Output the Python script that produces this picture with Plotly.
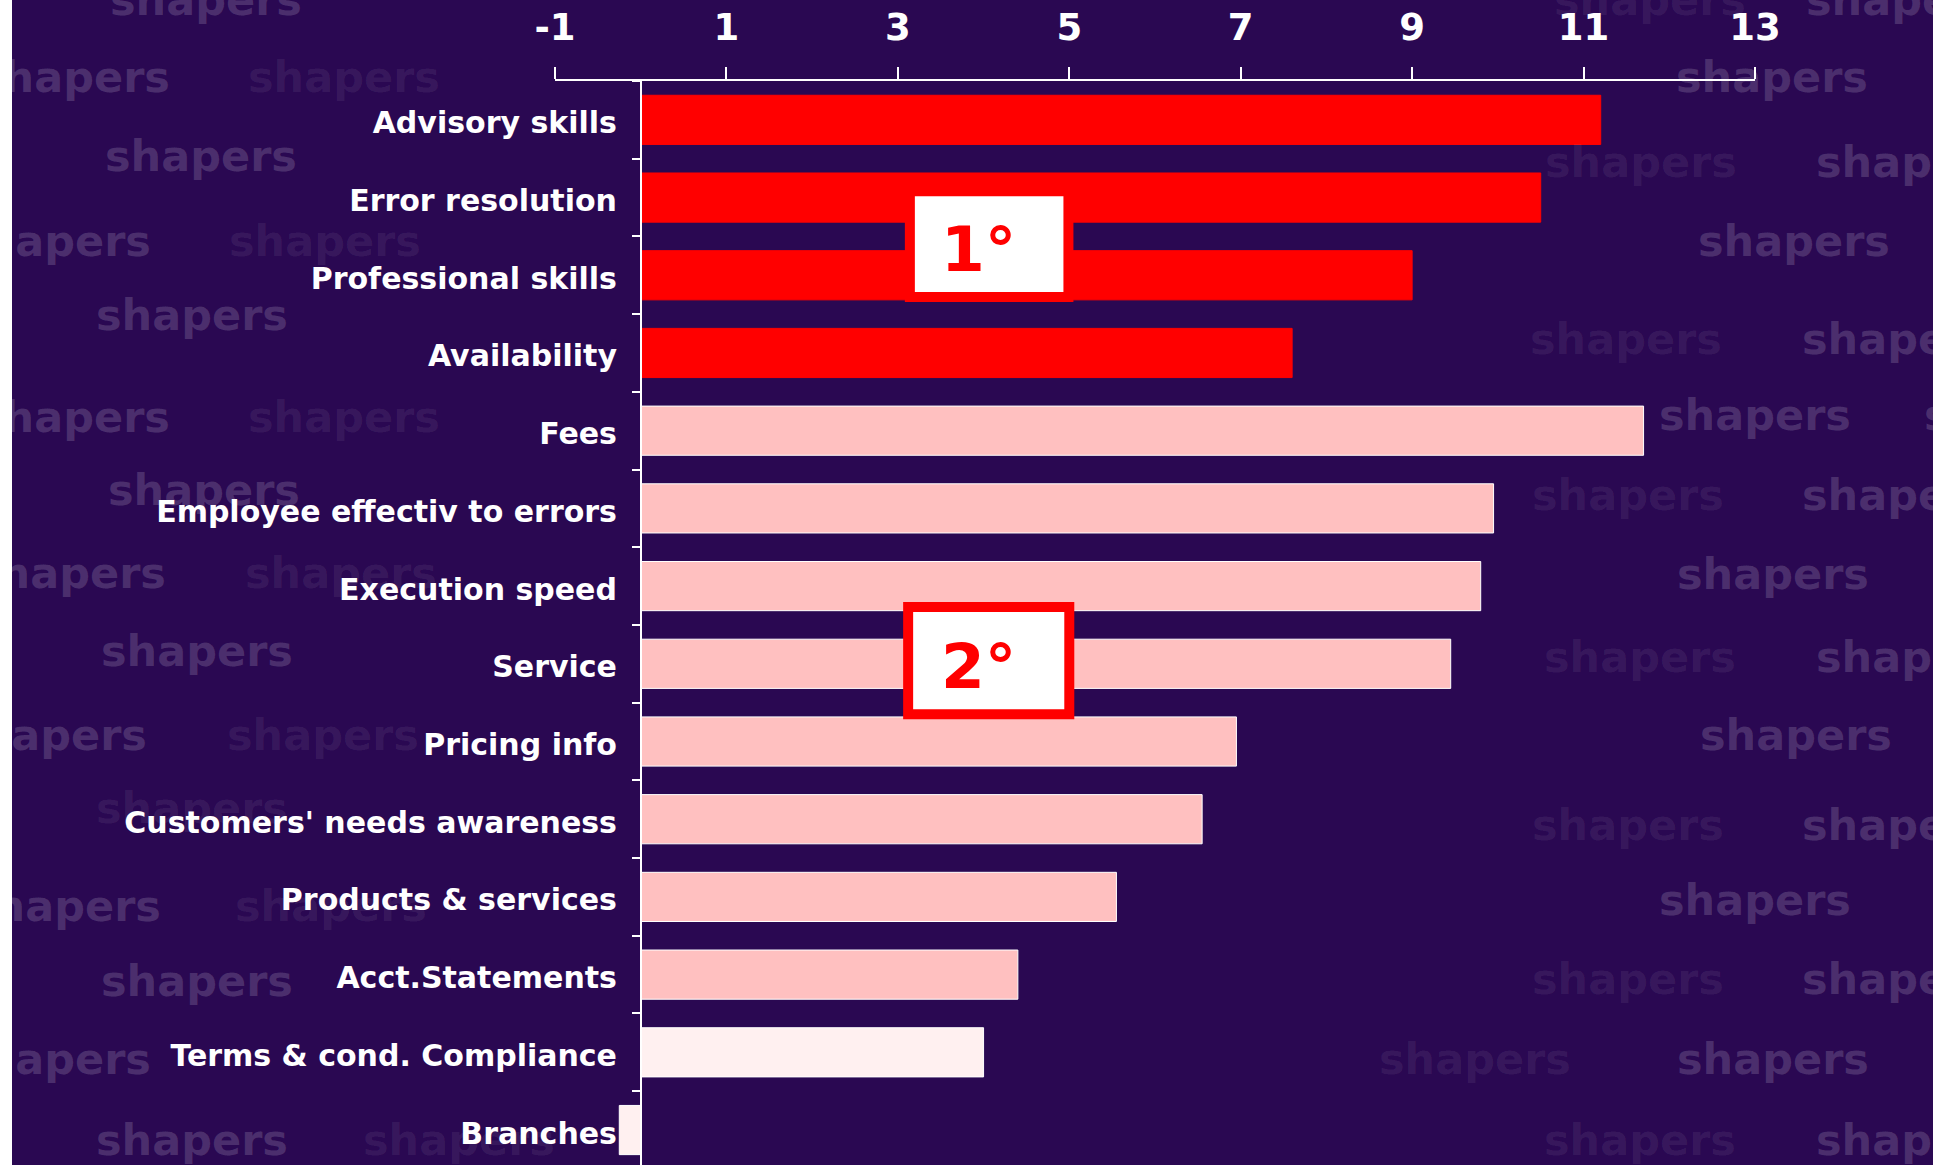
import plotly.graph_objects as go

# ---------------- data ----------------
categories = ["Advisory skills", "Error resolution", "Professional skills", "Availability",
              "Fees", "Employee effectiv to errors", "Execution speed", "Service",
              "Pricing info", "Customers' needs awareness", "Products & services",
              "Acct.Statements", "Terms & cond. Compliance", "Branches"]
values = [11.2, 10.5, 9.0, 7.6, 11.7, 9.95, 9.8, 9.45, 6.95, 6.55, 5.55, 4.4, 4.0, -0.25]
groups = ["1°", "1°", "1°", "1°",
          "2°", "2°", "2°", "2°", "2°", "2°", "2°", "2°",
          "other", "other"]
x_ticks = [-1, 1, 3, 5, 7, 9, 11, 13]
x_tick_text = ["-1", "1", "3", "5", "7", "9", "11", "13"]
rank_labels = ["1°", "2°"]

# ---------------- style ----------------
W, H = 1954, 1165
ML, MR, MT, MB = 555, 199, 81, 0
PW, PH = W - ML - MR, H - MT - MB
BG = "#2A0852"
group_color = {"1°": "#FF0000", "2°": "#FFC0C0", "other": "#FFF0F0"}
group_line = {"1°": "#FF0000", "2°": "#FFFFFF", "other": "#FFFFFF"}
FONT = "DejaVu Sans"

bar_colors = [group_color[g] for g in groups]
line_colors = [group_line[g] for g in groups]

fig = go.Figure()

fig.add_trace(go.Bar(
    y=categories, x=values, orientation="h",
    marker=dict(color=bar_colors, line=dict(color=line_colors, width=1)),
    hoverinfo="x+y", showlegend=False))

# rank boxes
boxes = [(3.14, 4.99, 0.92, 2.28), (3.12, 5.00, 6.27, 7.65)]
for (x0, x1, y0, y1), lab in zip(boxes, rank_labels):
    fig.add_shape(type="rect", xref="x", yref="y", x0=x0, x1=x1, y0=y0, y1=y1,
                  fillcolor="white", line=dict(color="#FF0000", width=10), layer="above")
    fig.add_annotation(x=(x0 + x1) / 2 - 0.12, y=(y0 + y1) / 2 + 0.07, xref="x", yref="y",
                       text=lab, showarrow=False,
                       font=dict(family=FONT, size=63, color="#FF0000", weight="bold"))

# white edges of the page
for px0, px1 in ((0, 12), (1933, W)):
    fig.add_shape(type="rect", xref="paper", yref="paper",
                  x0=(px0 - ML) / PW, x1=(px1 - ML) / PW,
                  y0=-0.1, y1=1.2, fillcolor="white", line=dict(width=0), layer="above")

# watermark ("shapers") decoration, positions in reference pixels (1568-wide view)
wm_normal = [(165, 0), (59, 62), (161, 125), (44, 193), (154, 253), (59, 335), (164, 393),
             (56, 460), (158, 522), (41, 590), (52, 727), (158, 787), (44, 850), (154, 915),
             (1526, 0), (1422, 62), (1534, 130), (1440, 193), (1523, 272), (1408, 333),
             (1621, 333), (1523, 397), (1423, 461), (1534, 527), (1441, 590), (1523, 662),
             (1408, 722), (1523, 786), (1423, 850), (1534, 915)]
wm_faint = [(276, 62), (261, 193), (276, 335), (274, 460), (259, 590), (154, 648), (266, 727),
            (368, 915), (1324, 0), (1317, 130), (1305, 272), (1306, 397), (1316, 527),
            (1306, 662), (1306, 786), (1184, 850), (1316, 915)]
S = W / 1568
for pts, col in ((wm_normal, "rgba(255,255,255,0.16)"), (wm_faint, "rgba(255,255,255,0.07)")):
    for px, py in pts:
        fig.add_annotation(x=(px * S - ML) / PW, y=(H - MB - py * S) / PH,
                           xref="paper", yref="paper", xanchor="center", yanchor="middle",
                           text="shapers", showarrow=False,
                           font=dict(family=FONT, size=43, color=col, weight="bold"))

fig.update_layout(
    width=W, height=H,
    margin=dict(l=ML, r=MR, t=MT, b=MB, pad=0),
    paper_bgcolor=BG, plot_bgcolor=BG,
    bargap=0.367,
    xaxis=dict(side="top", range=[-1, 13], tickvals=x_ticks, ticktext=x_tick_text,
               showgrid=False, zeroline=False,
               showline=True, linecolor="white", linewidth=2,
               ticks="outside", ticklen=12, tickwidth=1.5, tickcolor="white",
               ticklabelstandoff=12,
               tickfont=dict(family=FONT, size=37, color="white", weight="bold"),
               automargin=False, fixedrange=True),
    yaxis=dict(type="category", categoryorder="array", categoryarray=categories,
               range=[13.45, -0.5], anchor="free", position=1 / 14,
               showgrid=False, zeroline=False, showline=True, linecolor="white", linewidth=1.5,
               ticks="outside", tickson="boundaries", ticklen=8, tickwidth=1.5, tickcolor="white",
               ticklabelstandoff=17, ticklabelshift=-3,
               tickfont=dict(family=FONT, size=30, color="white", weight="bold"),
               automargin=False, fixedrange=True),
)

fig.write_html("out.html", config={"displayModeBar": False},
               post_script="document.body.style.margin='0';document.body.style.overflow='hidden';")
